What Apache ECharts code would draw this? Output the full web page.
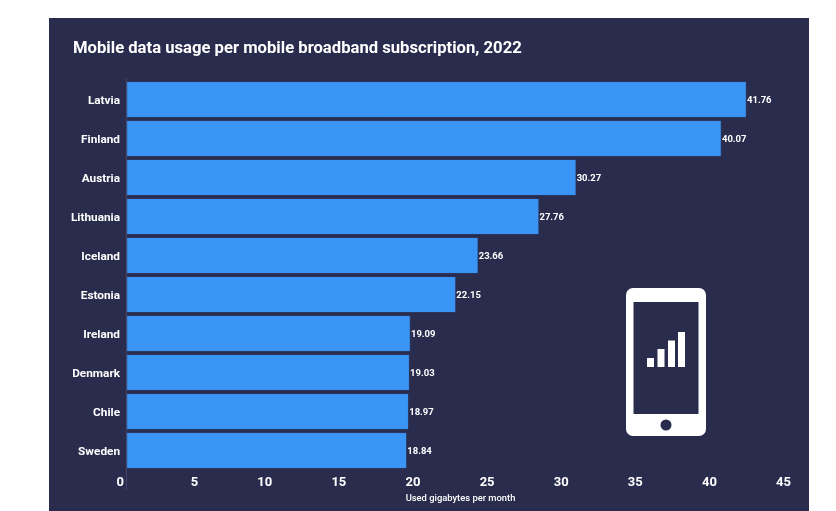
<!DOCTYPE html>
<html>
<head>
<meta charset="utf-8">
<style>
html,body{margin:0;padding:0;background:#fff;}
#c{width:836px;height:511px;}
</style>
<script src="https://cdn.jsdelivr.net/npm/echarts@6/dist/echarts.min.js"></script>
</head>
<body>
<div id="c"></div>
<script>
const categories = ['Latvia','Finland','Austria','Lithuania','Iceland','Estonia','Ireland','Denmark','Chile','Sweden'];
const values = [41.76,40.07,30.27,27.76,23.66,22.15,19.09,19.03,18.97,18.84];
const titleText = 'Mobile data usage per mobile broadband subscription, 2022';
const axisTitle = 'Used gigabytes per month';
const BG = '#2a2c4e', WHITE = '#ffffff', BAR = '#3b95f7';
const FONT = 'Roboto';

const chart = echarts.init(document.getElementById('c'), null, {renderer:'canvas'});
chart.setOption({
  animation:false,
  backgroundColor:'#ffffff',
  title:{text:titleText,left:73,top:39,padding:0,
    textStyle:{color:WHITE,fontFamily:FONT,fontSize:16.65,fontWeight:700,lineHeight:20}},
  grid:{left:127,right:42,top:80,bottom:41},
  xAxis:{type:'value',min:0,max:45,interval:5,
    splitLine:{show:false},axisLine:{show:false},axisTick:{show:false},
    name:axisTitle,nameLocation:'middle',nameGap:24,
    nameTextStyle:{color:WHITE,fontFamily:FONT,fontSize:9.4,fontWeight:500},
    axisLabel:{color:WHITE,fontFamily:FONT,fontSize:13,fontWeight:700,align:'right',margin:6,padding:[0,3,0,0],showMinLabel:true,showMaxLabel:true,hideOverlap:false}},
  yAxis:{type:'category',data:categories,inverse:true,
    axisLine:{show:false},axisTick:{show:false},splitLine:{show:false},
    axisLabel:{color:WHITE,fontFamily:FONT,fontSize:11.8,fontWeight:700,margin:7,lineHeight:4,verticalAlign:'top'}},
  series:[{type:'bar',data:values,barCategoryGap:'10%',
    itemStyle:{color:BAR,borderColor:'#3585de',borderWidth:0.3},
    label:{show:true,position:'right',distance:1,offset:[0,1],color:WHITE,fontFamily:FONT,fontSize:9.5,fontWeight:700,
      formatter:p=>p.value.toFixed(2)}}],
  graphic:[
    {type:'rect',z:-10,silent:true,shape:{x:49,y:18,width:760,height:493},style:{fill:BG}},
    {type:'line',z:1,silent:true,shape:{x1:126.5,y1:78,x2:126.5,y2:490},style:{stroke:'#44466a',lineWidth:1}},
    {type:'rect',z:0,silent:true,shape:{x:626,y:288,width:80,height:148,r:7},style:{fill:WHITE}},
    {type:'rect',z:0,silent:true,shape:{x:633.5,y:302,width:65,height:112},style:{fill:BG}},
    {type:'circle',z:0,silent:true,shape:{cx:666,cy:425,r:5.5},style:{fill:BG}},
    {type:'rect',z:0,silent:true,shape:{x:647,y:358,width:7,height:9},style:{fill:WHITE}},
    {type:'rect',z:0,silent:true,shape:{x:657.5,y:349,width:7,height:18},style:{fill:WHITE}},
    {type:'rect',z:0,silent:true,shape:{x:668,y:340.5,width:7,height:26.5},style:{fill:WHITE}},
    {type:'rect',z:0,silent:true,shape:{x:678,y:332,width:7,height:35},style:{fill:WHITE}}
  ]
});
</script>
</body>
</html>
